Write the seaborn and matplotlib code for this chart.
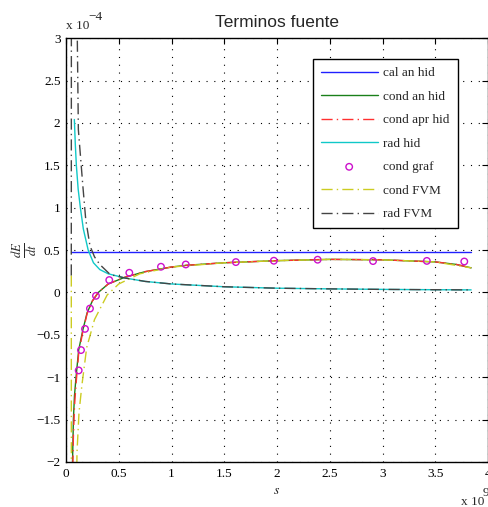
import matplotlib
matplotlib.use("Agg")
import matplotlib.pyplot as plt
import pandas as pd
import seaborn as sns

# ---------------- datos (s en 1e9, dE/dt en 1e-4) ----------------
s_cal = [0.045, 3.84]
cal_an_hid = [0.48, 0.48]

s_cond = [0.06, 0.07, 0.08, 0.095, 0.12, 0.158, 0.2, 0.25, 0.306, 0.4, 0.56, 0.75,
          1.0, 1.14, 1.5, 2.0, 2.5, 3.0, 3.5, 3.7, 3.84]
cond_an_hid = [-2.1, -1.5, -1.22, -1.0, -0.68, -0.45, -0.24, -0.1, 0.0, 0.1, 0.18, 0.245,
               0.3, 0.32, 0.35, 0.375, 0.39, 0.385, 0.36, 0.33, 0.29]
cond_apr_hid = [-2.3, -1.7, -1.35, -1.08, -0.72, -0.47, -0.25, -0.1, 0.0, 0.1, 0.18, 0.245,
                0.3, 0.32, 0.35, 0.375, 0.39, 0.385, 0.36, 0.33, 0.29]

s_rad = [0.079, 0.088, 0.098, 0.115, 0.136, 0.164, 0.21, 0.26, 0.32, 0.4, 0.56, 0.75,
         1.0, 1.5, 2.0, 2.5, 3.0, 3.5, 3.84]
rad_hid = [2.04, 1.75, 1.5, 1.22, 1.0, 0.75, 0.5, 0.35, 0.27, 0.22, 0.17, 0.13,
           0.10, 0.067, 0.05, 0.042, 0.036, 0.032, 0.03]

s_graf = [0.12, 0.142, 0.18, 0.227, 0.284, 0.41, 0.60, 0.90, 1.135, 1.61, 1.97, 2.385,
          2.91, 3.42, 3.775]
cond_graf = [-0.92, -0.68, -0.43, -0.19, -0.04, 0.146, 0.232, 0.303, 0.33, 0.358, 0.374,
             0.386, 0.37, 0.372, 0.365]

s_fvm = [0.05, 0.052, 0.104, 0.123, 0.15, 0.196, 0.27, 0.39, 0.5, 0.7, 1.0, 1.5, 2.0,
         2.5, 3.0, 3.5, 3.84]
cond_fvm = [0.2, -8.0, -1.89, -1.42, -1.1, -0.65, -0.32, -0.03, 0.1, 0.22, 0.3, 0.35,
            0.375, 0.39, 0.385, 0.36, 0.29]

s_radfvm = [0.05, 0.052, 0.107, 0.117, 0.16, 0.187, 0.227, 0.27, 0.32, 0.42, 0.56, 0.75,
            1.0, 1.5, 2.0, 2.5, 3.0, 3.5, 3.84]
rad_fvm = [0.2, 8.0, 3.0, 1.92, 1.25, 0.86, 0.55, 0.42, 0.33, 0.21, 0.17, 0.13,
           0.10, 0.067, 0.05, 0.042, 0.036, 0.032, 0.03]

x_ticks = [0, 0.5, 1, 1.5, 2, 2.5, 3, 3.5, 4]
y_ticks = [-2, -1.5, -1, -0.5, 0, 0.5, 1, 1.5, 2, 2.5, 3]

# ---------------- estilo ----------------
sns.set_style("white")
plt.rcParams['font.family'] = ['Liberation Serif', 'DejaVu Serif']
plt.rcParams['mathtext.fontset'] = 'stix'
plt.rcParams['axes.unicode_minus'] = True

fig = plt.figure(figsize=(4.89, 5.07), dpi=100)
ax = fig.add_axes([0.135, 0.0888, 0.863, 0.836])

dashdot = (0, (8, 3, 1, 3))

sns.lineplot(x=s_cal, y=cal_an_hid, ax=ax, color='#2020ff', lw=1.0, sort=False,
             label='cal an hid')
sns.lineplot(x=s_cond, y=cond_an_hid, ax=ax, color='#1a801a', lw=1.0, sort=False,
             label='cond an hid')
sns.lineplot(x=s_cond, y=cond_apr_hid, ax=ax, color='#ff3030', lw=1.0, sort=False,
             linestyle=dashdot, label='cond apr hid')
sns.lineplot(x=s_rad, y=rad_hid, ax=ax, color='#10c8c8', lw=1.0, sort=False,
             label='rad hid')
sns.scatterplot(x=s_graf, y=cond_graf, ax=ax, marker='o', s=22, facecolor='none',
                edgecolor='#cc11cc', linewidth=1.0, label='cond graf', zorder=5)
sns.lineplot(x=s_fvm, y=cond_fvm, ax=ax, color='#cccc22', lw=1.0, sort=False,
             linestyle=dashdot, label='cond FVM')
sns.lineplot(x=s_radfvm, y=rad_fvm, ax=ax, color='#444444', lw=1.0, sort=False,
             linestyle=dashdot, label='rad FVM')

ax.set_xlim(0, 4)
ax.set_ylim(-2, 3)
ax.set_xticks(x_ticks)
ax.set_yticks(y_ticks)
ax.set_xticklabels([f'{v:g}' for v in x_ticks])
ax.set_yticklabels([f'{v:g}'.replace('-', '\u2212') for v in y_ticks])
ax.tick_params(direction='in', length=4, width=0.8, top=True, right=True,
               labelsize=9.5, pad=4, colors='black')
ax.grid(True, color='black', linestyle=(0, (1, 6)), linewidth=0.8)
for sp in ax.spines.values():
    sp.set_color('black')
    sp.set_linewidth(1.0)

ax.set_title('Terminos fuente', family='Liberation Sans', fontsize=12.5, pad=8)
ax.set_xlabel('$s$', fontsize=10)
ax.xaxis.set_label_coords(0.5, -0.052)
ax.set_ylabel(r'$\frac{dE}{dt}$', fontsize=13)
ax.yaxis.set_label_coords(-0.065, 0.5)

# exponentes a la manera de MATLAB
fig.text(66 / 489, 1 - 29 / 507, 'x 10', fontsize=9.5, ha='left', va='baseline')
fig.text(88 / 489, 1 - 20 / 507, '\u22124', fontsize=9.5, ha='left', va='baseline')
fig.text(461 / 489, 1 - 505 / 507, 'x 10', fontsize=9.5, ha='left', va='baseline')
fig.text(483 / 489, 1 - 496 / 507, '9', fontsize=9.5, ha='left', va='baseline')

leg = ax.legend(loc='upper left', bbox_to_anchor=(0.585, 0.950), borderaxespad=0,
                fontsize=9.5, handlelength=4.3, handletextpad=0.45, labelspacing=0.85,
                borderpad=0.6, fancybox=False, framealpha=1, edgecolor='black',
                scatterpoints=1)
leg.get_frame().set_linewidth(1.0)

fig.savefig('out.png', dpi=100)
